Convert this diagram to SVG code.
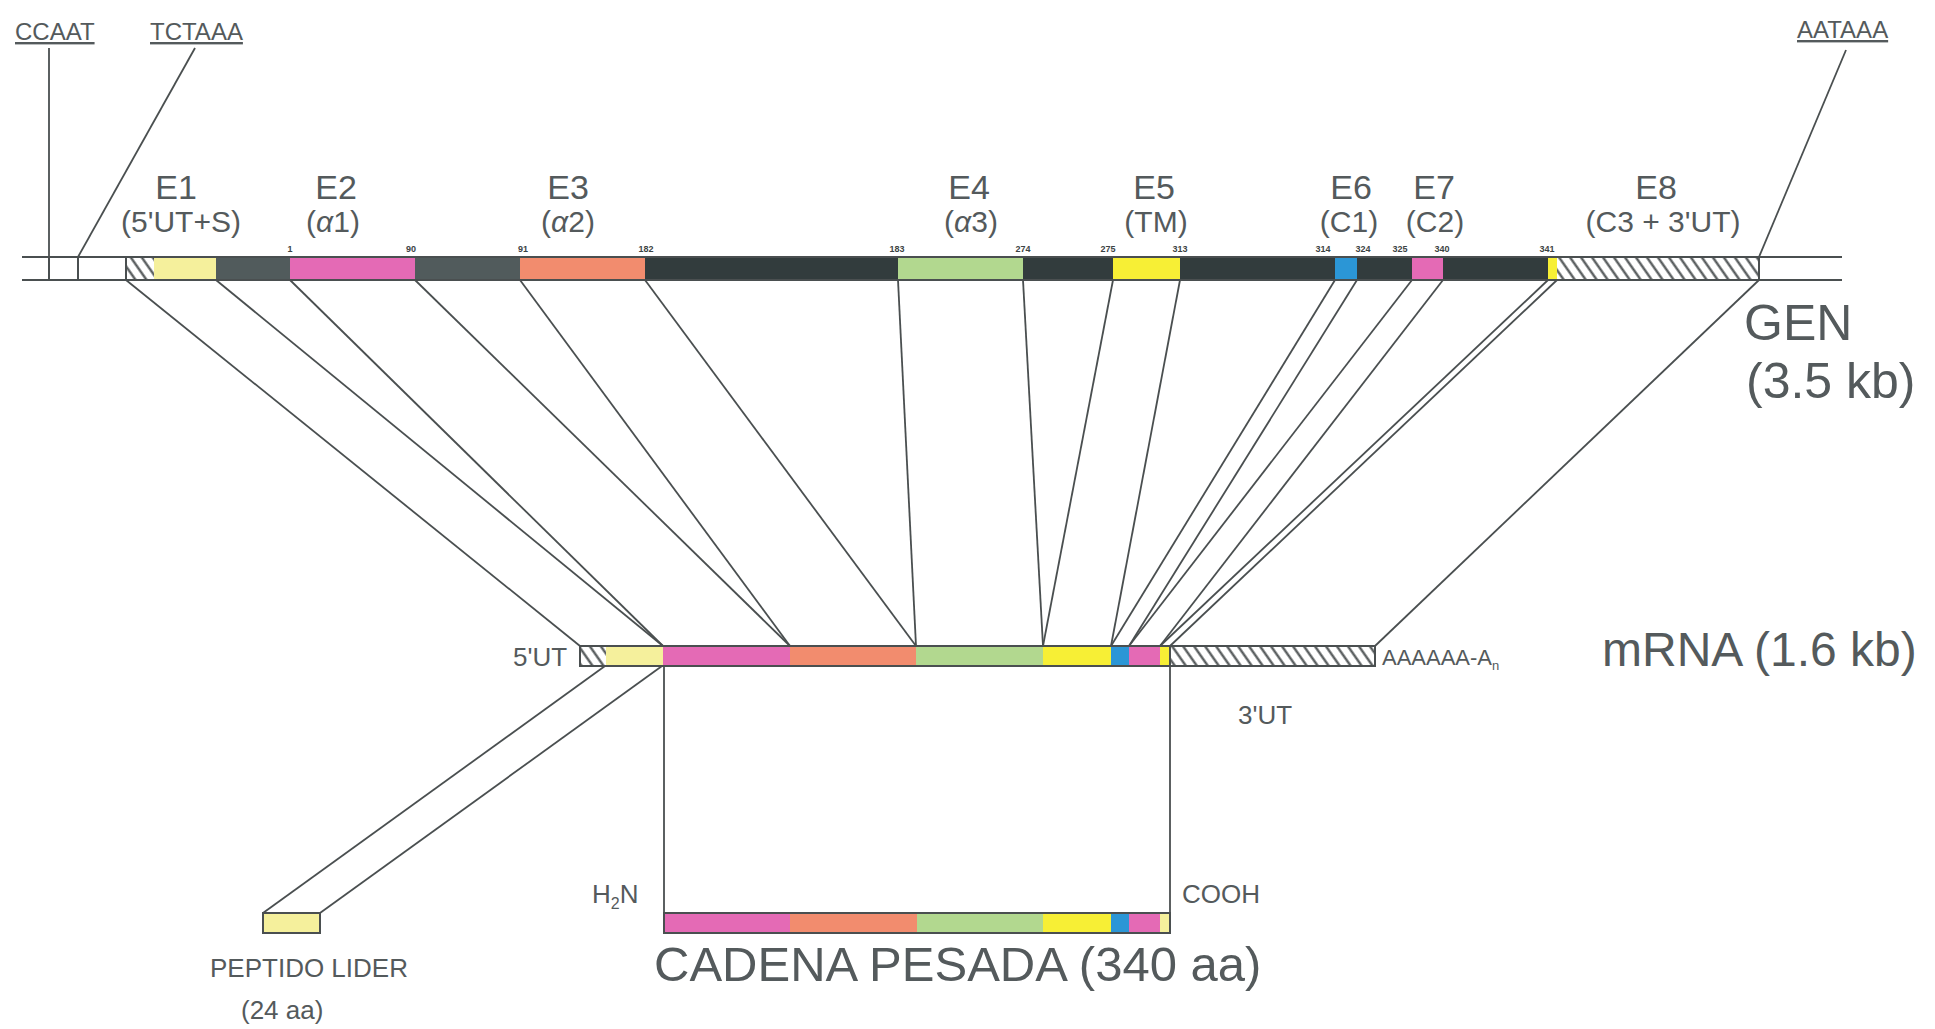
<svg xmlns="http://www.w3.org/2000/svg" width="1935" height="1029" viewBox="0 0 1935 1029">
<style>
text{font-family:"Liberation Sans",Arial,sans-serif;fill:#545a5c}
.ex{font-size:34px;text-anchor:middle}
.sub{font-size:30px;text-anchor:middle}
.num{font-size:9px;font-weight:bold;text-anchor:middle;fill:#3c4344}
.big{font-size:50px}
.lab{font-size:26px}
.prom{font-size:24px;text-decoration:underline}
.ln{stroke:#4a4f50;stroke-width:1.8;fill:none}
.ol{stroke:#4a4f50;stroke-width:2;fill:none}
.dk{fill:#323c3d}
.dk2{fill:#515b5c}
.pk{fill:#e46ab5}
.or{fill:#f28c6e}
.gr{fill:#b2d88f}
.ye{fill:#f7ef35}
.py{fill:#f5f09c}
.bl{fill:#2b96d6}
.ht{fill:url(#hatch)}
</style>
<defs>
<pattern id="hatch" width="9" height="9" patternUnits="userSpaceOnUse" patternTransform="rotate(-35)">
<rect width="9" height="9" fill="#ffffff"/>
<line x1="4.5" y1="0" x2="4.5" y2="9" stroke="#4a4f50" stroke-width="2.2"/>
</pattern>
</defs>
<rect width="1935" height="1029" fill="#ffffff"/>

<g id="promoters">
<text class="prom" x="15" y="40">CCAAT</text>
<text class="prom" x="150" y="40">TCTAAA</text>
<text class="prom" x="1797" y="38">AATAAA</text>
</g>

<g id="gene">
<rect class="ht" x="126" y="257" width="28" height="23"/>
<rect class="py" x="154" y="257" width="62" height="23"/>
<rect class="dk2" x="216" y="257" width="74" height="23"/>
<rect class="pk" x="290" y="257" width="125" height="23"/>
<rect class="dk2" x="415" y="257" width="105" height="23"/>
<rect class="or" x="520" y="257" width="125" height="23"/>
<rect class="dk" x="645" y="257" width="253" height="23"/>
<rect class="gr" x="898" y="257" width="125" height="23"/>
<rect class="dk" x="1023" y="257" width="90" height="23"/>
<rect class="ye" x="1113" y="257" width="67" height="23"/>
<rect class="dk" x="1180" y="257" width="155" height="23"/>
<rect class="bl" x="1335" y="257" width="22" height="23"/>
<rect class="dk" x="1357" y="257" width="55" height="23"/>
<rect class="pk" x="1412" y="257" width="31" height="23"/>
<rect class="dk" x="1443" y="257" width="105" height="23"/>
<rect class="ye" x="1548" y="257" width="9" height="23"/>
<rect class="ht" x="1557" y="257" width="202" height="23"/>
<line class="ol" x1="22" y1="257" x2="1842" y2="257"/>
<line class="ol" x1="22" y1="280" x2="1842" y2="280"/>
<line class="ol" x1="49" y1="257" x2="49" y2="280"/>
<line class="ol" x1="78" y1="257" x2="78" y2="280"/>
<line class="ol" x1="126" y1="257" x2="126" y2="280"/>
<line class="ol" x1="1759" y1="257" x2="1759" y2="280"/>
<text class="num" x="290" y="252">1</text>
<text class="num" x="411" y="252">90</text>
<text class="num" x="523" y="252">91</text>
<text class="num" x="646" y="252">182</text>
<text class="num" x="897" y="252">183</text>
<text class="num" x="1023" y="252">274</text>
<text class="num" x="1108" y="252">275</text>
<text class="num" x="1180" y="252">313</text>
<text class="num" x="1323" y="252">314</text>
<text class="num" x="1363" y="252">324</text>
<text class="num" x="1400" y="252">325</text>
<text class="num" x="1442" y="252">340</text>
<text class="num" x="1547" y="252">341</text>
<text class="big" x="1744" y="340">GEN</text>
<text class="big" x="1746" y="398">(3.5 kb)</text>
</g>

<g id="exon-labels">
<text class="ex" x="176" y="199">E1</text>
<text class="sub" x="181" y="232">(5'UT+S)</text>
<text class="ex" x="336" y="199">E2</text>
<text class="sub" x="333" y="232">(<tspan font-style="italic">α</tspan>1)</text>
<text class="ex" x="568" y="199">E3</text>
<text class="sub" x="568" y="232">(<tspan font-style="italic">α</tspan>2)</text>
<text class="ex" x="969" y="199">E4</text>
<text class="sub" x="971" y="232">(<tspan font-style="italic">α</tspan>3)</text>
<text class="ex" x="1154" y="199">E5</text>
<text class="sub" x="1156" y="232">(TM)</text>
<text class="ex" x="1351" y="199">E6</text>
<text class="sub" x="1349" y="232">(C1)</text>
<text class="ex" x="1434" y="199">E7</text>
<text class="sub" x="1435" y="232">(C2)</text>
<text class="ex" x="1656" y="199">E8</text>
<text class="sub" x="1663" y="232">(C3 + 3'UT)</text>
</g>

<g id="connectors">
<line class="ln" x1="49" y1="48" x2="49" y2="257"/>
<line class="ln" x1="195" y1="48" x2="78" y2="257"/>
<line class="ln" x1="1846" y1="50" x2="1759" y2="257"/>
<line class="ln" x1="126" y1="280" x2="580" y2="646"/>
<line class="ln" x1="216" y1="280" x2="663" y2="646"/>
<line class="ln" x1="290" y1="280" x2="663" y2="646"/>
<line class="ln" x1="415" y1="280" x2="790" y2="646"/>
<line class="ln" x1="520" y1="280" x2="790" y2="646"/>
<line class="ln" x1="645" y1="280" x2="916" y2="646"/>
<line class="ln" x1="898" y1="280" x2="916" y2="646"/>
<line class="ln" x1="1023" y1="280" x2="1043" y2="646"/>
<line class="ln" x1="1113" y1="280" x2="1043" y2="646"/>
<line class="ln" x1="1180" y1="280" x2="1111" y2="646"/>
<line class="ln" x1="1335" y1="280" x2="1111" y2="646"/>
<line class="ln" x1="1357" y1="280" x2="1129" y2="646"/>
<line class="ln" x1="1412" y1="280" x2="1129" y2="646"/>
<line class="ln" x1="1443" y1="280" x2="1160" y2="646"/>
<line class="ln" x1="1548" y1="280" x2="1160" y2="646"/>
<line class="ln" x1="1557" y1="280" x2="1170" y2="646"/>
<line class="ln" x1="1759" y1="280" x2="1375" y2="646"/>
<line class="ln" x1="605" y1="666" x2="263" y2="913"/>
<line class="ln" x1="662" y1="666" x2="320" y2="913"/>
<line class="ln" x1="664" y1="666" x2="664" y2="913"/>
<line class="ln" x1="1170" y1="666" x2="1170" y2="913"/>
</g>

<g id="mrna">
<rect class="ht" x="580" y="646" width="26" height="20"/>
<rect class="py" x="606" y="646" width="57" height="20"/>
<rect class="pk" x="663" y="646" width="127" height="20"/>
<rect class="or" x="790" y="646" width="126" height="20"/>
<rect class="gr" x="916" y="646" width="127" height="20"/>
<rect class="ye" x="1043" y="646" width="68" height="20"/>
<rect class="bl" x="1111" y="646" width="18" height="20"/>
<rect class="pk" x="1129" y="646" width="31" height="20"/>
<rect class="ye" x="1160" y="646" width="10" height="20"/>
<rect class="ht" x="1170" y="646" width="205" height="20"/>
<rect class="ol" x="580" y="646" width="795" height="20"/>
<line class="ol" x1="1170" y1="646" x2="1170" y2="666"/>
<text class="lab" x="513" y="666">5'UT</text>
<text x="1382" y="665" font-size="22">AAAAAA-A<tspan font-size="13" dy="5">n</tspan></text>
<text class="lab" x="1238" y="724">3'UT</text>
<text x="1602" y="666" font-size="48">mRNA (1.6 kb)</text>
</g>

<g id="leader-peptide">
<rect class="py" x="263" y="913" width="57" height="20" stroke="#4a4f50" stroke-width="2"/>
<text class="lab" x="210" y="977">PEPTIDO LIDER</text>
<text class="lab" x="241" y="1019">(24 aa)</text>
</g>

<g id="heavy-chain">
<rect class="pk" x="664" y="913" width="126" height="20"/>
<rect class="or" x="790" y="913" width="127" height="20"/>
<rect class="gr" x="917" y="913" width="126" height="20"/>
<rect class="ye" x="1043" y="913" width="68" height="20"/>
<rect class="bl" x="1111" y="913" width="18" height="20"/>
<rect class="pk" x="1129" y="913" width="31" height="20"/>
<rect class="py" x="1160" y="913" width="10" height="20"/>
<rect class="ol" x="664" y="913" width="506" height="20"/>
<text class="lab" x="592" y="903">H<tspan font-size="16" dy="6">2</tspan><tspan dy="-6">N</tspan></text>
<text class="lab" x="1182" y="903">COOH</text>
<text x="654" y="981" font-size="49">CADENA PESADA (340 aa)</text>
</g>
</svg>
